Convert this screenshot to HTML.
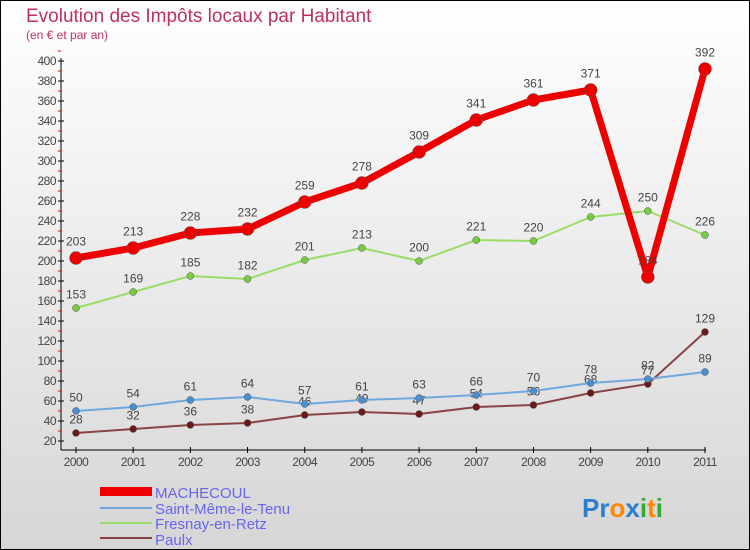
<!DOCTYPE html>
<html><head><meta charset="utf-8"><style>
body{margin:0}
svg{display:block;font-family:"Liberation Sans",sans-serif}
</style></head><body>
<svg width="750" height="550" viewBox="0 0 750 550" xmlns="http://www.w3.org/2000/svg">
<defs><linearGradient id="bg" x1="0" y1="0" x2="0" y2="1"><stop offset="0" stop-color="#ffffff"/><stop offset="1" stop-color="#d6d6d6"/></linearGradient></defs>
<rect x="0.5" y="0.5" width="749" height="549" fill="url(#bg)" stroke="#000"/>
<text x="26" y="22" font-size="19" fill="#c0305a">Evolution des Impôts locaux par Habitant</text>
<text x="26" y="39" font-size="12" fill="#c0305a">(en € et par an)</text>
<g id="axes"></g>
<g id="series"></g>
<g id="legend">
<rect x="100" y="487" width="52" height="9" fill="#e00"/>
<text x="155" y="498" font-size="15" fill="#6666ee">MACHECOUL</text>
<line x1="100" y1="508" x2="152" y2="508" stroke="#6fa8dc" stroke-width="2"/>
<text x="155" y="514" font-size="15" fill="#6666ee">Saint-Même-le-Tenu</text>
<line x1="100" y1="523" x2="152" y2="523" stroke="#99dd66" stroke-width="2"/>
<text x="155" y="529" font-size="15" fill="#6666ee">Fresnay-en-Retz</text>
<line x1="100" y1="538" x2="152" y2="538" stroke="#884444" stroke-width="2"/>
<text x="155" y="545" font-size="15" fill="#6666ee">Paulx</text>
</g>
<text x="582" y="517" font-size="26" font-weight="bold"><tspan fill="#2a7fd0">Pr</tspan><tspan fill="#ff8800">o</tspan><tspan fill="#2a7fd0">x</tspan><tspan fill="#33aa33">i</tspan><tspan fill="#ff8800">t</tspan><tspan fill="#33aa33">i</tspan></text>
</svg>
<script>
const years=["2000","2001","2002","2003","2004","2005","2006","2007","2008","2009","2010","2011"];
const yTicks=[20,40,60,80,100,120,140,160,180,200,220,240,260,280,300,320,340,360,380,400];
const machecoul=[203,213,228,232,259,278,309,341,361,371,184,392];
const saintMeme=[50,54,61,64,57,61,63,66,70,78,82,89];
const fresnay=[153,169,185,182,201,213,200,221,220,244,250,226];
const paulx=[28,32,36,38,46,49,47,54,56,68,77,129];
const NS="http://www.w3.org/2000/svg";
const xs=i=>76+i*(705-76)/11;
const ys=v=>461-v;
function mk(tag,attrs,parent){const e=document.createElementNS(NS,tag);for(const k in attrs)e.setAttribute(k,attrs[k]);parent.appendChild(e);return e;}
const ax=document.getElementById('axes');
let yl=mk('line',{x1:61,y1:58,x2:61,y2:450,stroke:'#000'},ax);


let xl=mk('line',{x1:61,y1:450,x2:706,y2:450,stroke:'#000'},ax);


yTicks.forEach(v=>{
 mk('line',{x1:58,y1:ys(v),x2:64,y2:ys(v),stroke:'#000'},ax);
 mk('line',{x1:58,y1:ys(v)-10,x2:61,y2:ys(v)-10,stroke:'#e00'},ax);
 const t=mk('text',{x:56,y:ys(v)+4,'font-size':12,'text-anchor':'end',fill:'#444','letter-spacing':'-0.5'},ax);
 t.textContent=v;
 
 
});
years.forEach((y,i)=>{
 mk('line',{x1:xs(i),y1:447,x2:xs(i),y2:453,stroke:'#000'},ax);
 const t=mk('text',{x:xs(i),y:466,'font-size':12,'text-anchor':'middle',fill:'#444','letter-spacing':'-0.5'},ax);
 t.textContent=y;
 
 
});
const sg=document.getElementById('series');
function series(vals,name,color,w,r,fill){
 const g=mk('g',{},sg);
 
 
 const p=mk('polyline',{points:vals.map((v,i)=>xs(i)+','+ys(v)).join(' '),fill:'none',stroke:color,'stroke-width':w,'stroke-linejoin':'round'},g);
 
 
 vals.forEach((v,i)=>{
  const c=mk('circle',{cx:xs(i),cy:ys(v),r:r,fill:fill,stroke:'#555','stroke-width':0.5},g);
  
  
  const t=mk('text',{x:xs(i),y:ys(v)-(r+6),'font-size':12,'text-anchor':'middle',fill:'#444'},g);
  t.textContent=v;
  
  
 });
}
series(paulx,'paulx','#884444',2,3.5,'#6b1a1a');
series(saintMeme,'saint-meme','#6fa8dc',2,3.5,'#4a90d0');
series(fresnay,'fresnay','#99dd66',2,3.5,'#77cc44');
series(machecoul,'machecoul','#e00',7,6.5,'#e00');
</script>
</body></html>
